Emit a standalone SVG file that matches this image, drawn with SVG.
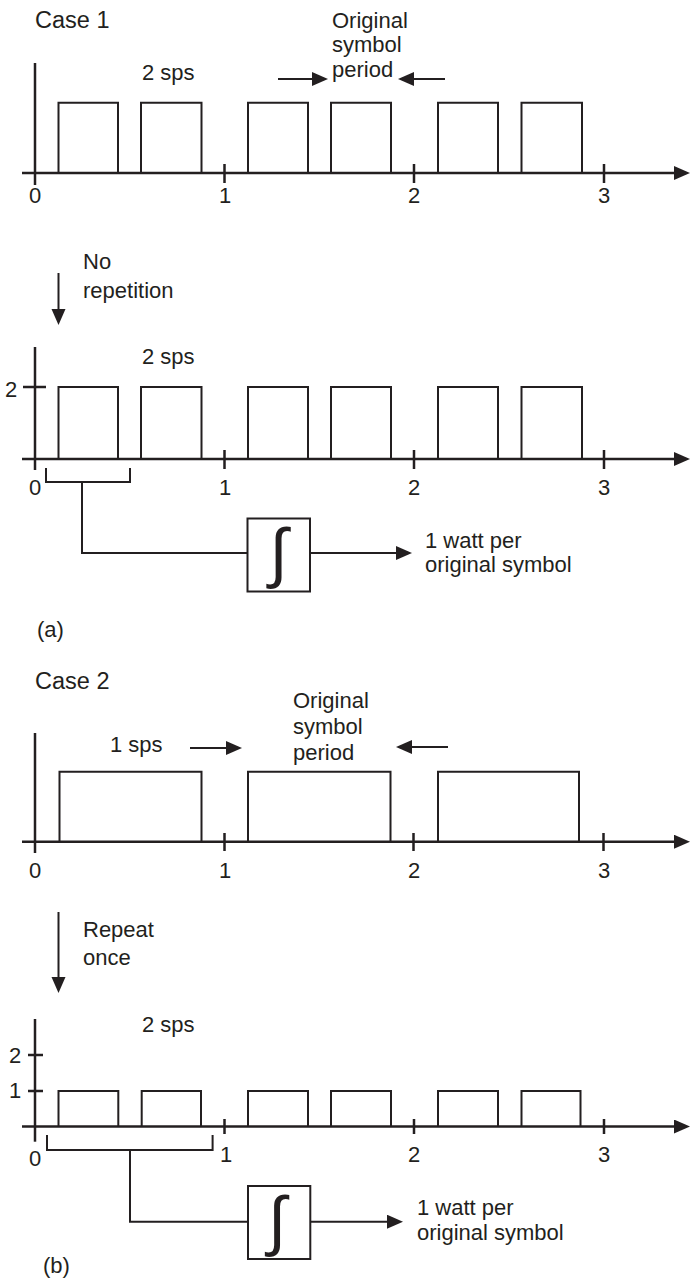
<svg xmlns="http://www.w3.org/2000/svg" width="690" height="1280" viewBox="0 0 690 1280">
<style>
  text { font-family: "Liberation Sans", Arial, sans-serif; font-size: 22px; fill: #231f20; }
  .mid { text-anchor: middle; }
  .case { font-size: 23.5px; }
  .ax { fill: none; stroke: #231f20; stroke-width: 2.5; }
  .pl { fill: none; stroke: #231f20; stroke-width: 2; }
  .ln { fill: none; stroke: #231f20; stroke-width: 2; }
  .box { fill: #ffffff; stroke: #231f20; stroke-width: 2; }
  .int { font-family: "Liberation Sans", Arial, sans-serif; font-size: 66px; }
</style>
<defs>
  <marker id="ah" markerUnits="userSpaceOnUse" markerWidth="17" markerHeight="15" refX="6" refY="7" orient="auto">
    <path d="M0,0 L16,7 L0,14 z" fill="#231f20"/>
  </marker>
</defs>
<rect width="690" height="1280" fill="#ffffff"/>

<!-- Case 1 -->
<g id="plot-case1">
  <text class="case" x="35" y="28">Case 1</text>
  <text x="142" y="80">2 sps</text>
  <text x="332" y="28">Original</text>
  <text x="332" y="52">symbol</text>
  <text x="332" y="77">period</text>
  <path class="ax" d="M35,63 V185"/>
  <path class="ax" d="M22,173 H680" marker-end="url(#ah)"/>
  <path class="ax" d="M224.5,164 V183 M414,164 V183 M604,164 V183"/>
  <path class="pl" d="M58.5,173 V102.7 H118 V173 M141,173 V102.7 H201.5 V173 M248,173 V102.7 H308 V173 M331,173 V102.7 H391 V173 M438,173 V102.7 H498 V173 M521.5,173 V102.7 H582 V173"/>
  <text class="mid" x="35" y="203">0</text>
  <text class="mid" x="225" y="203">1</text>
  <text class="mid" x="414" y="203">2</text>
  <text class="mid" x="604" y="203">3</text>
</g>

<!-- Case 1 after no repetition -->
<g id="plot-case1-norep">
  <text x="83" y="269">No</text>
  <text x="83" y="298">repetition</text>
  <text x="142" y="364">2 sps</text>
  <text x="5" y="397">2</text>
  <path class="ax" d="M35,347 V470"/>
  <path class="ax" d="M23,387 H46"/>
  <path class="ax" d="M22,459 H680" marker-end="url(#ah)"/>
  <path class="ax" d="M224.5,450 V469 M414,450 V469 M604,450 V469"/>
  <path class="pl" d="M58.5,459 V387 H118 V459 M141,459 V387 H201.5 V459 M248,459 V387 H308 V459 M331,459 V387 H391 V459 M438,459 V387 H498 V459 M521.5,459 V387 H582 V459"/>
  <text class="mid" x="35" y="495">0</text>
  <text class="mid" x="225" y="495">1</text>
  <text class="mid" x="414" y="495">2</text>
  <text class="mid" x="604" y="495">3</text>
  <text x="37" y="637">(a)</text>
</g>

<g id="integrator-a">
  <rect class="box" x="247.5" y="518.5" width="62.5" height="73"/>
  <text class="int mid" x="278.5" y="575">∫</text>
</g>
<g id="output-a">
  <text x="425" y="548">1 watt per</text>
  <text x="425" y="572">original symbol</text>
</g>

<!-- Case 2 -->
<g id="plot-case2">
  <text class="case" x="35" y="689">Case 2</text>
  <text x="110" y="752">1 sps</text>
  <text x="293" y="708">Original</text>
  <text x="293" y="734">symbol</text>
  <text x="293" y="760">period</text>
  <path class="ax" d="M35,733 V853"/>
  <path class="ax" d="M22,841.7 H680" marker-end="url(#ah)"/>
  <path class="ax" d="M224.5,833 V851 M413.5,833 V851 M603.5,833 V851"/>
  <path class="pl" d="M59.5,841.7 V771.7 H201.5 V841.7 M248,841.7 V771.7 H390.5 V841.7 M438,841.7 V771.7 H579 V841.7"/>
  <text class="mid" x="35" y="878">0</text>
  <text class="mid" x="225" y="878">1</text>
  <text class="mid" x="414" y="878">2</text>
  <text class="mid" x="604" y="878">3</text>
</g>

<!-- Case 2 after repeat once -->
<g id="plot-case2-repeat">
  <text x="83" y="937">Repeat</text>
  <text x="83" y="965">once</text>
  <text x="142" y="1032">2 sps</text>
  <text x="9" y="1063">2</text>
  <text x="9" y="1098">1</text>
  <path class="ax" d="M35,1019 V1141.7"/>
  <path class="ax" d="M28,1055 H43 M28,1091 H43"/>
  <path class="ax" d="M22,1126.5 H680" marker-end="url(#ah)"/>
  <path class="ax" d="M224.5,1119 V1134 M414,1119 V1134 M604,1119 V1134"/>
  <path class="pl" d="M58.5,1126.5 V1091 H118.3 V1126.5 M141.7,1126.5 V1091 H201 V1126.5 M248,1126.5 V1091 H308 V1126.5 M331,1126.5 V1091 H391 V1126.5 M438,1126.5 V1091 H498 V1126.5 M521.5,1126.5 V1091 H580.5 V1126.5"/>
  <text class="mid" x="35" y="1166">0</text>
  <text class="mid" x="226" y="1162">1</text>
  <text class="mid" x="414" y="1162">2</text>
  <text class="mid" x="604" y="1162">3</text>
  <text x="43" y="1273">(b)</text>
</g>

<g id="integrator-b">
  <rect class="box" x="248" y="1186" width="62.3" height="73"/>
  <text class="int mid" x="277" y="1243">∫</text>
</g>
<g id="output-b">
  <text x="417" y="1215">1 watt per</text>
  <text x="417" y="1240">original symbol</text>
</g>

<!-- connectors -->
<g id="connectors">
  <path class="ln" d="M278,79 H318" marker-end="url(#ah)"/>
  <path class="ln" d="M445,79 H408" marker-end="url(#ah)"/>
  <path class="ln" d="M58.5,273 V315" marker-end="url(#ah)"/>
  <path class="ln" d="M46,468 V482 H130 V468"/>
  <path class="ln" d="M82,482 V553 H247.5"/>
  <path class="ln" d="M310,553 H402" marker-end="url(#ah)"/>
  <path class="ln" d="M190,748 H232" marker-end="url(#ah)"/>
  <path class="ln" d="M448,747 H406" marker-end="url(#ah)"/>
  <path class="ln" d="M58.5,912 V983" marker-end="url(#ah)"/>
  <path class="ln" d="M47,1135 V1150 H212.6 V1135"/>
  <path class="ln" d="M130,1150 V1221.7 H248"/>
  <path class="ln" d="M310.3,1221.7 H393" marker-end="url(#ah)"/>
</g>
</svg>
